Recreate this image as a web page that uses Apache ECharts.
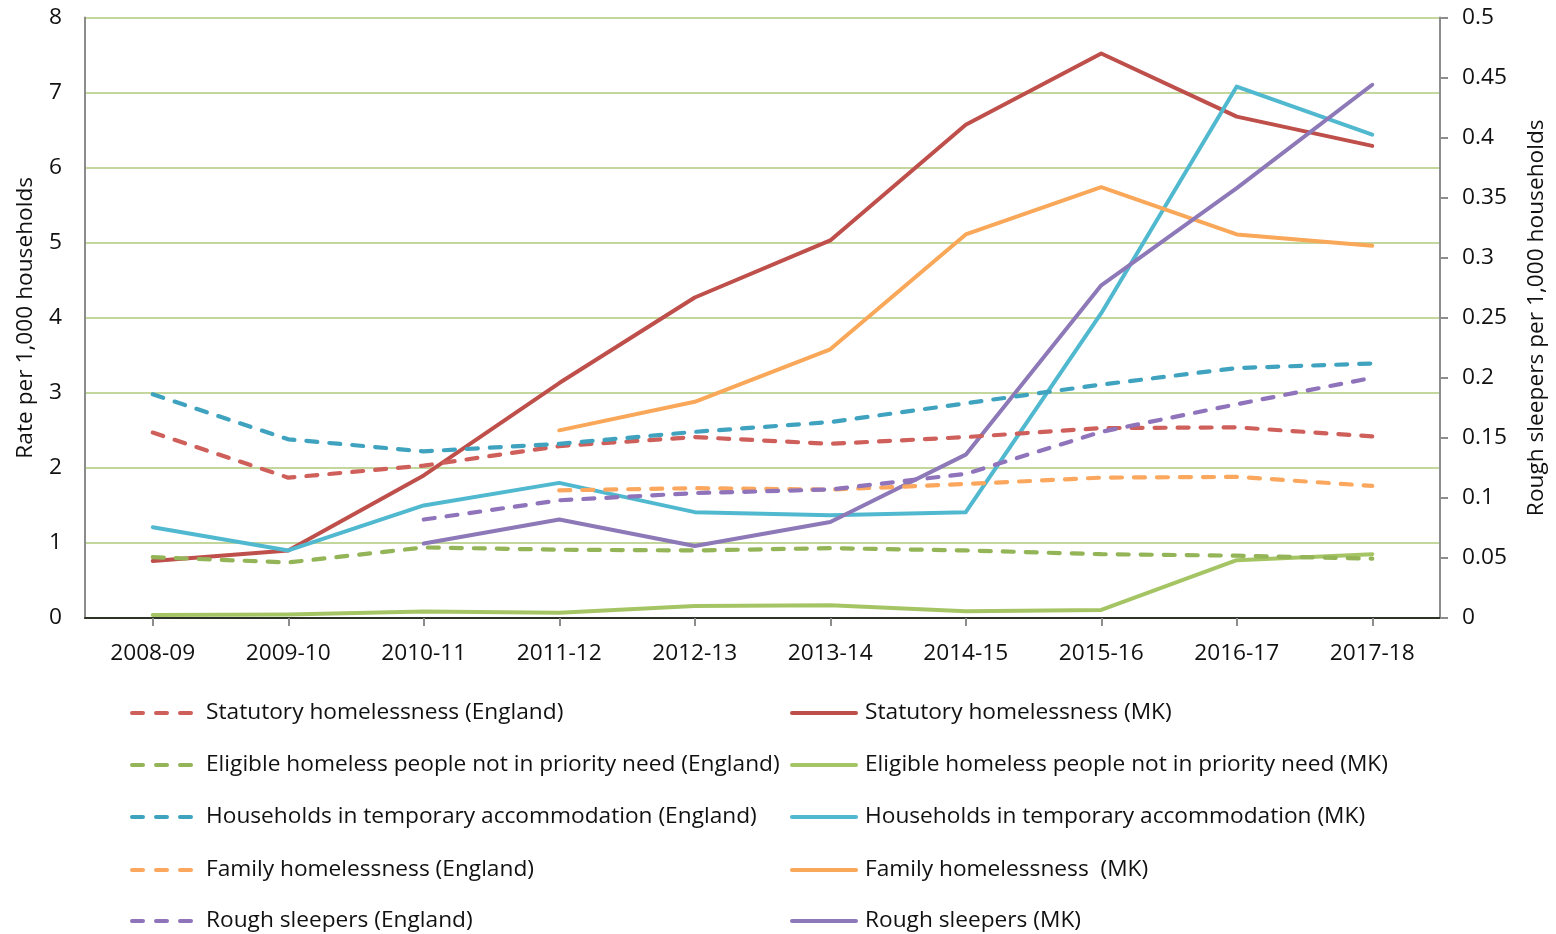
<!DOCTYPE html>
<html>
<head>
<meta charset="utf-8">
<script src="https://cdn.jsdelivr.net/npm/echarts@6/dist/echarts.min.js"></script>
<style>html,body{margin:0;padding:0;background:#fff;}#c{width:1556px;height:934px;}</style>
</head>
<body>
<div id="c"></div>
<script>
const categories = ['2008-09','2009-10','2010-11','2011-12','2012-13','2013-14','2014-15','2015-16','2016-17','2017-18'];

const statutoryEngland = [2.47, 1.87, 2.03, 2.29, 2.41, 2.32, 2.41, 2.53, 2.54, 2.42];
const eligibleEngland  = [0.81, 0.74, 0.94, 0.91, 0.90, 0.93, 0.90, 0.85, 0.83, 0.79];
const tempAccEngland   = [2.98, 2.38, 2.22, 2.32, 2.48, 2.61, 2.86, 3.11, 3.33, 3.39];
const familyEngland    = [null, null, null, 1.70, 1.73, 1.71, 1.785, 1.87, 1.88, 1.76];
const roughEngland     = [null, null, 0.082, 0.098, 0.104, 0.107, 0.120, 0.155, 0.178, 0.200];

const statutoryMK = [0.76, 0.90, 1.90, 3.13, 4.27, 5.03, 6.57, 7.52, 6.68, 6.29];
const eligibleMK  = [0.04, 0.045, 0.085, 0.07, 0.16, 0.17, 0.09, 0.107, 0.77, 0.85];
const tempAccMK   = [1.21, 0.90, 1.50, 1.80, 1.41, 1.37, 1.41, 4.06, 7.08, 6.44];
const familyMK    = [null, null, null, 2.50, 2.88, 3.58, 5.11, 5.74, 5.11, 4.96];
const roughMK     = [null, null, 0.062, 0.082, 0.060, 0.080, 0.136, 0.277, 0.358, 0.444];

const leftTicks = ['0','1','2','3','4','5','6','7','8'];
const rightTicks = ['0','0.05','0.1','0.15','0.2','0.25','0.3','0.35','0.4','0.45','0.5'];

const englandNames = [
  'Statutory homelessness (England)',
  'Eligible homeless people not in priority need (England)',
  'Households in temporary accommodation (England)',
  'Family homelessness (England)',
  'Rough sleepers (England)'
];
const mkNames = [
  'Statutory homelessness (MK)',
  'Eligible homeless people not in priority need (MK)',
  'Households in temporary accommodation (MK)',
  'Family homelessness  (MK)',
  'Rough sleepers (MK)'
];

const englandColors = ['#cf5f5a', '#93b457', '#3fa3bf', '#fba75e', '#8f74bb'];
const mkColors      = ['#be4f4a', '#a5c565', '#51b9cf', '#f9a759', '#8d78b8'];

const FONT = 'Open Sans';
const FS = 22.7;

function dashed(name, data, color, yIdx) {
  return {
    name, type: 'line', data, yAxisIndex: yIdx || 0,
    symbol: 'none', connectNulls: false, z: 3,
    lineStyle: { color, width: 4.2, type: [11, 12], cap: 'round' },
    itemStyle: { color }
  };
}
function solid(name, data, color, yIdx) {
  return {
    name, type: 'line', data, yAxisIndex: yIdx || 0,
    symbol: 'none', connectNulls: false, z: 2,
    lineStyle: { color, width: 4, type: 'solid', cap: 'round', join: 'round' },
    itemStyle: { color }
  };
}

const dashIcon = 'path://M2,0h11a2,2 0 0 1 0,4h-11a2,2 0 0 1 0,-4z M26,0h11a2,2 0 0 1 0,4h-11a2,2 0 0 1 0,-4z M50,0h11a2,2 0 0 1 0,4h-11a2,2 0 0 1 0,-4z';
const solidIcon = 'path://M2,0h64a2,2 0 0 1 0,4h-64a2,2 0 0 1 0,-4z';

const rowCenters = [713, 765, 817, 870, 921];
const legends = [];
englandNames.forEach((n, i) => {
  legends.push({
    orient: 'horizontal', left: 130, top: rowCenters[i] - 13,
    itemWidth: 63, itemHeight: 4, icon: dashIcon, padding: 0,
    textStyle: { fontFamily: FONT, fontSize: FS, color: '#111', lineHeight: 26, padding: [0, 0, 0, 8] },
    data: [n]
  });
});
mkNames.forEach((n, i) => {
  legends.push({
    orient: 'horizontal', left: 790, top: rowCenters[i] - 13,
    itemWidth: 68, itemHeight: 4, icon: solidIcon, padding: 0,
    textStyle: { fontFamily: FONT, fontSize: FS, color: '#111', lineHeight: 26, padding: [0, 0, 0, 2] },
    data: [n]
  });
});

const chart = echarts.init(document.getElementById('c'), null, { renderer: 'canvas' });

chart.setOption({
  animation: false,
  backgroundColor: '#fff',
  textStyle: { fontFamily: FONT },
  grid: { left: 85, right: 107, top: 17.5, bottom: 316, containLabel: false },
  legend: legends,
  xAxis: [
    {
      type: 'category', data: categories, boundaryGap: true, position: 'bottom',
      axisLine: { show: true, lineStyle: { color: '#8c8c8c', width: 2 } },
      axisTick: { show: true, alignWithLabel: true, length: 8, lineStyle: { color: '#8c8c8c', width: 2 } },
      axisLabel: { color: '#111', fontSize: FS, fontFamily: FONT, margin: 24 },
      splitLine: { show: false }
    },
    {
      type: 'category', data: categories, boundaryGap: true, position: 'top',
      axisLine: { show: true, lineStyle: { color: '#2e3328', width: 2 } },
      axisTick: { show: false }, axisLabel: { show: false }, splitLine: { show: false }
    }
  ],
  yAxis: [
    {
      type: 'value', min: 0, max: 8, interval: 1, position: 'left',
      name: 'Rate per 1,000 households', nameLocation: 'middle', nameRotate: 90, nameGap: 48,
      nameTextStyle: { color: '#111', fontSize: FS, fontFamily: FONT },
      axisLine: { show: true, lineStyle: { color: '#8c8c8c', width: 2 } },
      axisTick: { show: false },
      axisLabel: { color: '#111', fontSize: FS, fontFamily: FONT, margin: 23,
        formatter: v => leftTicks[Math.round(v)] },
      splitLine: { show: true, lineStyle: { color: '#c3d69b', width: 2 } }
    },
    {
      type: 'value', min: 0, max: 0.5, interval: 0.05, position: 'right',
      name: 'Rough sleepers per 1,000 households', nameLocation: 'middle', nameRotate: 90, nameGap: 85,
      nameTextStyle: { color: '#111', fontSize: FS, fontFamily: FONT },
      axisLine: { show: true, lineStyle: { color: '#8c8c8c', width: 2 } },
      axisTick: { show: true, inside: false, length: 8, lineStyle: { color: '#8c8c8c', width: 2 } },
      axisLabel: { color: '#111', fontSize: FS, fontFamily: FONT, margin: 22,
        formatter: v => rightTicks[Math.round(v / 0.05)] },
      splitLine: { show: false }
    }
  ],
  series: [
    solid(mkNames[0], statutoryMK, mkColors[0]),
    solid(mkNames[1], eligibleMK, mkColors[1]),
    solid(mkNames[2], tempAccMK, mkColors[2]),
    solid(mkNames[3], familyMK, mkColors[3]),
    solid(mkNames[4], roughMK, mkColors[4], 1),
    dashed(englandNames[0], statutoryEngland, englandColors[0]),
    dashed(englandNames[1], eligibleEngland, englandColors[1]),
    dashed(englandNames[2], tempAccEngland, englandColors[2]),
    dashed(englandNames[3], familyEngland, englandColors[3]),
    dashed(englandNames[4], roughEngland, englandColors[4], 1)
  ]
});
</script>
</body>
</html>
